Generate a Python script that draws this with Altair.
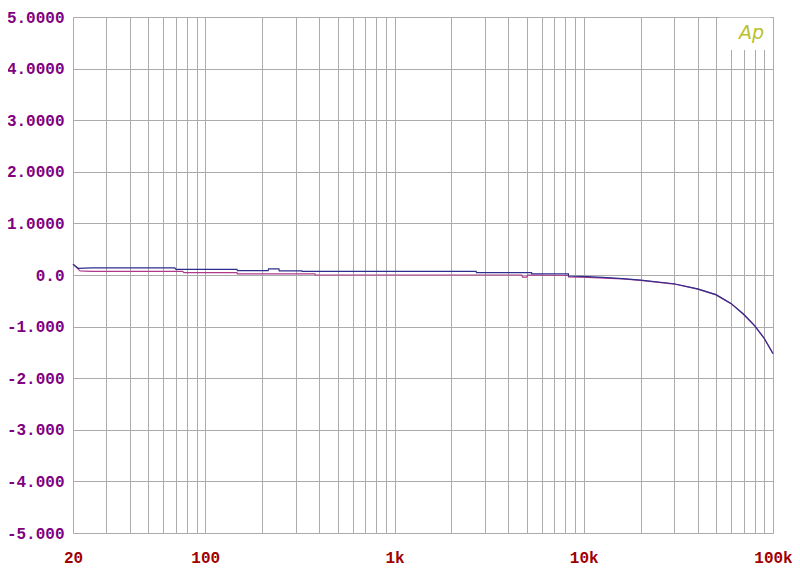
import altair as alt
import pandas as pd

# Blue trace (frequency Hz, level)
blue_freq = [20, 21.3, 25, 69, 70, 147, 148, 215, 216, 245, 246, 324, 325, 2700, 2710,
             5300, 5310, 8300, 8310, 10500, 12600, 16000, 20000, 30000, 40000, 50000,
             60000, 70000, 80000, 90000, 100000]
blue_val = [0.21, 0.13, 0.14, 0.14, 0.11, 0.11, 0.083, 0.083, 0.12, 0.12, 0.08, 0.08, 0.07, 0.07, 0.045,
            0.045, 0.02, 0.02, -0.02, -0.03, -0.045, -0.07, -0.10, -0.17, -0.27, -0.38,
            -0.55, -0.76, -0.98, -1.23, -1.52]

# Red trace
red_freq = [20, 21.8, 25, 76, 77, 147, 148, 380, 381, 4700, 4750, 5000, 5050, 8300, 8310,
            10500, 16000, 20000, 30000, 40000, 50000, 60000, 70000, 80000, 90000, 100000]
red_val = [0.21, 0.08, 0.07, 0.07, 0.045, 0.045, 0.02, 0.02, 0.0, 0.0, -0.04, -0.04, 0.0, -0.01, -0.035,
           -0.045, -0.075, -0.105, -0.175, -0.275, -0.385, -0.555, -0.765, -0.985, -1.235, -1.525]

grid_x = [20, 30, 40, 50, 60, 70, 80, 90, 100, 200, 300, 400, 500, 600, 700, 800, 900,
          1000, 2000, 3000, 4000, 5000, 6000, 7000, 8000, 9000, 10000, 20000, 30000, 40000,
          50000, 60000, 70000, 80000, 90000, 100000]
grid_y = [-5, -4, -3, -2, -1, 0, 1, 2, 3, 4, 5]

df = pd.concat([
    pd.DataFrame({"freq": red_freq, "val": red_val, "trace": "red"}),
    pd.DataFrame({"freq": blue_freq, "val": blue_val, "trace": "blue"}),
])

FONT = "Liberation Mono"

xscale = alt.Scale(type="log", domain=[20, 100000], nice=False)
yscale = alt.Scale(domain=[-5, 5], nice=False)

x_axis = alt.Axis(
    values=grid_x, title=None, ticks=False, domain=False,
    grid=True, gridColor="#ababab", gridWidth=1, gridOpacity=1,
    labelExpr="datum.value == 20 ? '20' : datum.value == 100 ? '100' : datum.value == 1000 ? '1k' : datum.value == 10000 ? '10k' : datum.value == 100000 ? '100k' : ''",
    labelFont=FONT, labelFontSize=16, labelFontWeight="bold", labelColor="#a00000",
    labelPadding=16, labelFlush=False, labelOverlap=False, labelBound=False,
)
y_axis = alt.Axis(
    values=grid_y, title=None, ticks=False, domain=False,
    grid=True, gridColor="#ababab", gridWidth=1, gridOpacity=1,
    labelExpr="datum.value == 0 ? '0.0' : datum.value > 0 ? format(datum.value, '.4f') : '-' + format(-datum.value, '.3f')",
    labelFont=FONT, labelFontSize=16, labelFontWeight="bold", labelColor="#800080",
    labelPadding=9, labelFlush=False, labelOverlap=False,
)

lines = alt.Chart(df).mark_line(strokeWidth=1.2, interpolate="linear").encode(
    x=alt.X("freq:Q", scale=xscale, axis=x_axis),
    y=alt.Y("val:Q", scale=yscale, axis=y_axis),
    color=alt.Color("trace:N", scale=alt.Scale(domain=["red", "blue"], range=["#b03a8a", "#2e2e8e"]), legend=None),
    order=alt.Order("freq:Q"),
    detail="trace:N",
)

# Logo box and text
logo_box = alt.Chart(pd.DataFrame({"x": [52000], "x2": [97000], "y": [4.36], "y2": [4.985]})).mark_rect(
    color="white").encode(x=alt.X("x:Q", scale=xscale), x2="x2", y=alt.Y("y:Q", scale=yscale), y2="y2")
logo_text = alt.Chart(pd.DataFrame({"x": [77000], "y": [4.69], "t": ["Ap"]})).mark_text(
    font="DejaVu Sans", fontSize=19, fontStyle="italic", color="#b8c22a").encode(
    x=alt.X("x:Q", scale=xscale), y=alt.Y("y:Q", scale=yscale), text="t:N")

chart = alt.layer(logo_box, lines, logo_text).properties(
    width=700, height=516,
    autosize=alt.AutoSizeParams(type="none"),
    padding={"left": 65, "top": 9, "right": 19, "bottom": 42},
).configure_view(stroke=None).configure(background="white")

chart.save("out.html", embed_options={"renderer": "svg", "actions": False})
